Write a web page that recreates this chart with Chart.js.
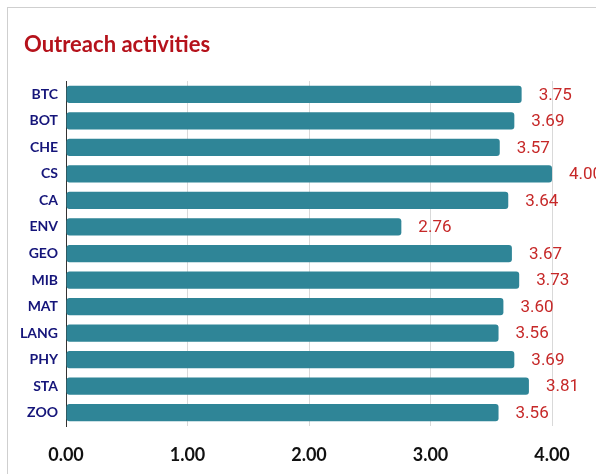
<!DOCTYPE html>
<html>
<head>
<meta charset="utf-8">
<script src="https://cdn.jsdelivr.net/npm/chart.js@4"></script>
<style>
  body { margin: 0; background: #fff; }
  #frame { position: absolute; left: 7px; top: 7px; width: 700px; height: 600px;
           border-left: 1px solid #cfcfcf; border-top: 1px solid #cfcfcf; }
  #myChart { position: absolute; left: 0; top: 0; }
</style>
</head>
<body>
<div id="frame"></div>
<canvas id="myChart" width="596" height="474"></canvas>
<script>
// departements et scores
var departements = ['BTC', 'BOT', 'CHE', 'CS', 'CA', 'ENV', 'GEO', 'MIB', 'MAT', 'LANG', 'PHY', 'STA', 'ZOO'];
var scores = [3.75, 3.69, 3.57, 4.00, 3.64, 2.76, 3.67, 3.73, 3.60, 3.56, 3.69, 3.81, 3.56];
var titre = 'Outreach activities';

// titre en haut a gauche
const titrePlugin = {
    id: 'titre',
    afterDraw(chart) {
        const ctx = chart.ctx;
        ctx.save();
        ctx.font = 'bold 22px Lato';
        ctx.fillStyle = '#b5121b';
        ctx.textAlign = 'left';
        ctx.textBaseline = 'alphabetic';
        ctx.fillText(titre, 24, 52);
        ctx.restore();
    }
};

// affiche la valeur a droite de chaque barre
const valeursPlugin = {
    id: 'valeurs',
    afterDatasetsDraw(chart) {
        const ctx = chart.ctx;
        const meta = chart.getDatasetMeta(0);
        ctx.save();
        ctx.font = '17px Roboto';
        ctx.fillStyle = '#c62828';
        ctx.textAlign = 'left';
        ctx.textBaseline = 'middle';
        meta.data.forEach((bar, i) => {
            ctx.fillText(scores[i].toFixed(2), bar.x + 17, bar.y + 1);
        });
        ctx.restore();
    }
};

const ctx = document.getElementById('myChart').getContext('2d');
const myChart = new Chart(ctx, {
    type: 'bar',
    data: {
        labels: departements,
        datasets: [{
            data: scores,
            backgroundColor: '#2f8597',
            borderRadius: 3,
            borderSkipped: false,
            categoryPercentage: 1,
            barPercentage: 0.65
        }]
    },
    options: {
        indexAxis: 'y',
        responsive: false,
        animation: false,
        layout: {
            padding: { left: 0, right: 44, top: 81, bottom: 10 }
        },
        scales: {
            x: {
                min: 0,
                max: 4,
                afterFit: function (scale) { scale.height = 38; },
                ticks: {
                    stepSize: 1,
                    padding: 18,
                    color: '#111',
                    font: { family: 'Lato', size: 18, weight: 'bold' },
                    callback: function (v) { return Number(v).toFixed(2); }
                },
                grid: { color: '#d9d9d9', drawTicks: false },
                border: { display: false }
            },
            y: {
                afterFit: function (scale) { scale.width = 66; },
                ticks: {
                    padding: 8,
                    color: '#15157a',
                    font: { family: 'Lato', size: 14, weight: 'bold' }
                },
                grid: { display: false, drawTicks: false },
                border: { display: true, color: '#333', width: 1 }
            }
        },
        plugins: {
            legend: { display: false },
            tooltip: { enabled: false },
            title: { display: false }
        }
    },
    plugins: [valeursPlugin, titrePlugin]
});
</script>
</body>
</html>
